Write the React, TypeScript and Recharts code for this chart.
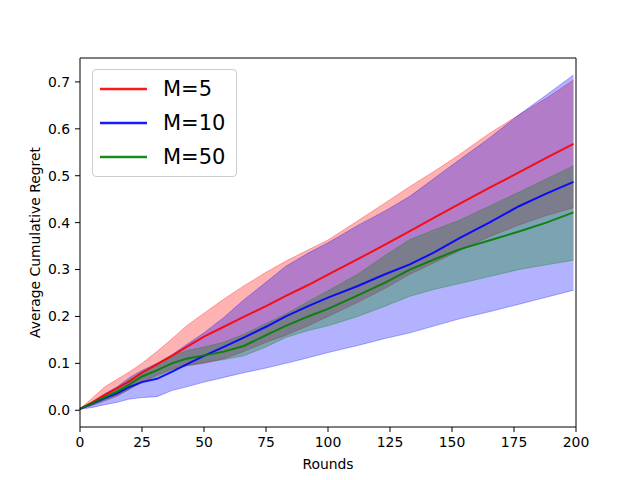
import React from 'react';
import { ComposedChart, Area, Line, XAxis, YAxis, ReferenceLine, Legend } from 'recharts';

// rounds sampled along the x axis
const rounds = [0, 5, 10, 15, 20, 25, 31, 37, 43, 50, 58, 66, 75, 83, 92, 100, 112, 123, 133, 143, 153, 165, 177, 188, 199];

// M=5
const m5Mean = [0.003, 0.017, 0.033, 0.047, 0.062, 0.08, 0.098, 0.116, 0.135, 0.157, 0.178, 0.199, 0.222, 0.244, 0.267, 0.289, 0.322, 0.353, 0.382, 0.411, 0.44, 0.474, 0.507, 0.538, 0.568];
const m5Low = [0.003, 0.01, 0.02, 0.03, 0.045, 0.06, 0.075, 0.088, 0.095, 0.1, 0.11, 0.125, 0.145, 0.16, 0.18, 0.2, 0.23, 0.26, 0.29, 0.315, 0.34, 0.37, 0.395, 0.415, 0.432];
const m5High = [0.003, 0.026, 0.05, 0.066, 0.082, 0.1, 0.125, 0.152, 0.18, 0.207, 0.237, 0.265, 0.294, 0.318, 0.342, 0.363, 0.404, 0.442, 0.477, 0.51, 0.545, 0.59, 0.63, 0.665, 0.704];

// M=10
const m10Mean = [0.003, 0.014, 0.026, 0.036, 0.05, 0.06, 0.067, 0.082, 0.098, 0.116, 0.135, 0.155, 0.178, 0.2, 0.222, 0.24, 0.265, 0.29, 0.311, 0.337, 0.367, 0.4, 0.435, 0.462, 0.487];
const m10Low = [0.002, 0.006, 0.012, 0.017, 0.024, 0.027, 0.029, 0.042, 0.05, 0.06, 0.07, 0.08, 0.09, 0.1, 0.112, 0.123, 0.138, 0.153, 0.165, 0.18, 0.195, 0.21, 0.226, 0.241, 0.256];
const m10High = [0.003, 0.018, 0.035, 0.05, 0.07, 0.085, 0.1, 0.118, 0.14, 0.165, 0.198, 0.235, 0.273, 0.307, 0.335, 0.357, 0.394, 0.425, 0.456, 0.495, 0.534, 0.58, 0.63, 0.672, 0.715];

// M=50
const m50Mean = [0.003, 0.015, 0.028, 0.04, 0.055, 0.072, 0.085, 0.1, 0.11, 0.117, 0.125, 0.137, 0.16, 0.18, 0.2, 0.216, 0.245, 0.272, 0.3, 0.322, 0.343, 0.362, 0.381, 0.4, 0.422];
const m50Low = [0.002, 0.012, 0.022, 0.032, 0.045, 0.06, 0.072, 0.085, 0.095, 0.102, 0.108, 0.116, 0.135, 0.155, 0.17, 0.18, 0.2, 0.222, 0.243, 0.258, 0.27, 0.285, 0.3, 0.31, 0.32];
const m50High = [0.003, 0.018, 0.034, 0.048, 0.065, 0.082, 0.098, 0.115, 0.127, 0.135, 0.145, 0.162, 0.185, 0.205, 0.232, 0.255, 0.29, 0.33, 0.364, 0.385, 0.405, 0.435, 0.465, 0.493, 0.521];

const xTicks = [0, 25, 50, 75, 100, 125, 150, 175, 200];
const yTicks = [0, 0.1, 0.2, 0.3, 0.4, 0.5, 0.6, 0.7];

const Y_MIN = -0.0357;
const Y_MAX = 0.751;
const FONT = 'DejaVu Sans, sans-serif';

const SERIES = [
  { key: 'm5', name: 'M=5', color: '#ff0000', mean: m5Mean, low: m5Low, high: m5High },
  { key: 'm10', name: 'M=10', color: '#0000ff', mean: m10Mean, low: m10Low, high: m10High },
  { key: 'm50', name: 'M=50', color: '#008000', mean: m50Mean, low: m50Low, high: m50High },
];

const data = rounds.map((r, i) => {
  const row: any = { round: r };
  SERIES.forEach((s) => {
    row[s.key] = s.mean[i];
    row[s.key + 'Band'] = [s.low[i], s.high[i]];
  });
  return row;
});

const LegendBox = () => (
  <div
    style={{
      width: 143,
      height: 106,
      border: '1px solid #cccccc',
      borderRadius: 4,
      background: 'rgba(255,255,255,0.8)',
      fontFamily: FONT,
      fontSize: 21,
      position: 'relative',
    }}
  >
    {SERIES.map((s, i) => (
      <div key={s.key} style={{ position: 'absolute', left: 0, top: 5 + i * 34, height: 28, width: 143 }}>
        <svg width={60} height={28} style={{ position: 'absolute', left: 0, top: 0 }}>
          <line x1={7} x2={54} y1={14} y2={14} stroke={s.color} strokeOpacity={0.9} strokeWidth={2.5} />
        </svg>
        <span style={{ position: 'absolute', left: 70, top: 1, lineHeight: '26px', color: '#000' }}>{s.name}</span>
      </div>
    ))}
  </div>
);

export default function App() {
  return (
    <div style={{ position: 'absolute', left: 0, top: 0, width: 640, height: 480, background: '#fff' }}>
      <ComposedChart width={640} height={480} data={data} margin={{ top: 58, right: 64, left: 0, bottom: 0 }}>
        <XAxis
          dataKey="round"
          type="number"
          domain={[0, 200]}
          ticks={xTicks}
          height={53}
          stroke="#000"
          tickSize={5}
          tickMargin={5}
          tick={{ fill: '#000', fontSize: 13.9, fontFamily: FONT }}
          label={{ value: 'Rounds', position: 'insideBottom', offset: 11, fill: '#000', fontSize: 13.9, fontFamily: FONT }}
        />
        <YAxis
          type="number"
          domain={[Y_MIN, Y_MAX]}
          ticks={yTicks}
          width={80}
          stroke="#000"
          tickSize={5}
          tickMargin={5}
          allowDataOverflow
          tickFormatter={(v: number) => v.toFixed(1)}
          tick={{ fill: '#000', fontSize: 13.9, fontFamily: FONT }}
          label={{ value: 'Average Cumulative Regret', angle: -90, position: 'center', dx: -5, fill: '#000', fontSize: 13.9, fontFamily: FONT }}
        />
        {SERIES.map((s) => (
          <Area
            key={s.key + 'Band'}
            dataKey={s.key + 'Band'}
            type="linear"
            fill={s.color}
            fillOpacity={0.3}
            stroke={s.color}
            strokeOpacity={0.3}
            strokeWidth={1}
            dot={false}
            activeDot={false}
            legendType="none"
            isAnimationActive={false}
          />
        ))}
        {SERIES.map((s) => (
          <Line
            key={s.key}
            dataKey={s.key}
            name={s.name}
            type="linear"
            stroke={s.color}
            strokeOpacity={0.9}
            strokeWidth={2}
            dot={false}
            activeDot={false}
            isAnimationActive={false}
          />
        ))}
        <ReferenceLine y={Y_MAX} stroke="#000" strokeWidth={1} />
        <ReferenceLine x={200} stroke="#000" strokeWidth={1} />
        <Legend
          layout="vertical"
          align="center"
          verticalAlign="middle"
          content={<LegendBox />}
          wrapperStyle={{ left: 92, top: 69, width: 145, height: 108 }}
        />
      </ComposedChart>
    </div>
  );
}
